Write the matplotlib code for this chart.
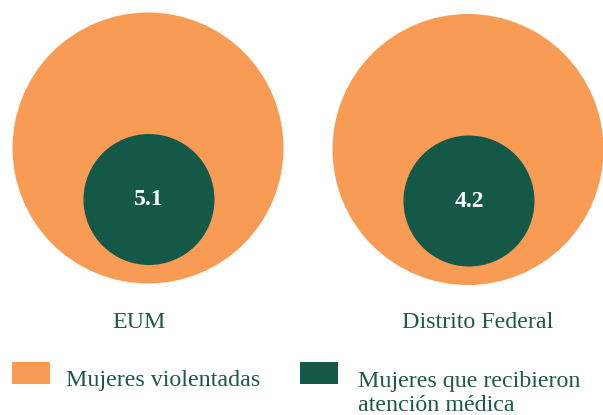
import matplotlib
matplotlib.use("Agg")
import matplotlib.pyplot as plt
from matplotlib.patches import Circle, Rectangle

# Data
regions = ["EUM", "Distrito Federal"]
pct_atencion = [5.1, 4.2]
legend_labels = ["Mujeres violentadas", "Mujeres que recibieron\natención médica"]

ORANGE = "#F79B55"
GREEN = "#145948"
TEXT = "#1E5A49"

plt.rcParams['font.family'] = ['Liberation Serif', 'DejaVu Serif']

fig = plt.figure(figsize=(6.03, 4.15), dpi=100)
ax = fig.add_axes([0, 0, 1, 1])
ax.set_xlim(0, 603)
ax.set_ylim(415, 0)
ax.set_aspect('equal')
ax.axis('off')

x0, dx = 148, 320
big_r, small_r = 135.5, 65.5
big_cy, small_cy = 148, 199.5
for i, (reg, v) in enumerate(zip(regions, pct_atencion)):
    cx = x0 + i * dx
    ax.add_patch(Circle((cx, big_cy + i * 1.5), big_r, color=ORANGE, lw=0))
    ax.add_patch(Circle((cx + 1, small_cy + i * 1.5), small_r, color=GREEN, lw=0))
    ax.text(cx + 1, small_cy + i * 1.5, f"{v}", color="white", fontsize=17,
            fontweight='bold', ha='center', va='center')
    ax.text(cx - 9 + i * 19, 322, reg, color=TEXT, fontsize=17.3,
            ha='center', va='center')

# Legend
for j, (lab, col) in enumerate(zip(legend_labels, [ORANGE, GREEN])):
    lx = 12 + j * 287.5
    ax.add_patch(Rectangle((lx, 361.5), 38, 22.5, color=col, lw=0))
    for k, line in enumerate(lab.split("\n")):
        ax.text(lx + 54 + j * 4, 385.5 + j * 1 + k * 24.5, line, color=TEXT,
                fontsize=17.3, ha='left', va='baseline')

fig.savefig("out.png", dpi=100)
